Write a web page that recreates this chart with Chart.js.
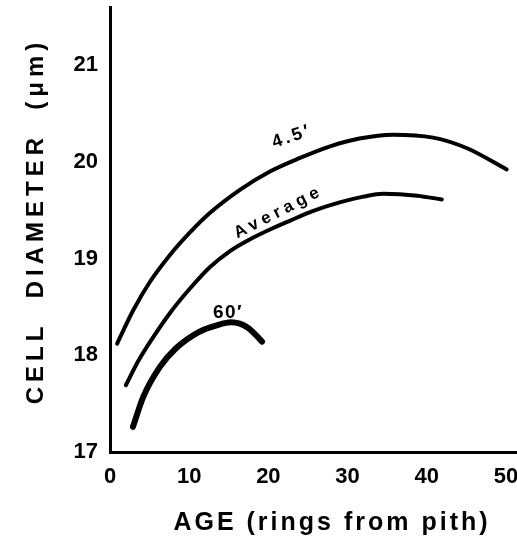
<!DOCTYPE html>
<html>
<head>
<meta charset="utf-8">
<script src="https://cdn.jsdelivr.net/npm/chart.js@4.4.1/dist/chart.umd.min.js"></script>
<style>
  html, body { margin: 0; padding: 0; background: #fff; }
  #wrap { width: 517px; height: 543px; position: relative; }
</style>
</head>
<body>
<div id="wrap"><canvas id="chart"></canvas></div>
<script>
// tick labels
const ageTicks = [0, 10, 20, 30, 40, 50];
const diameterTicks = [17, 18, 19, 20, 21];

// 4.5 ft height
const age45 = [0.9, 2.9, 5.05, 7.6, 10.1, 12.6, 16.4, 20.2, 24.0, 27.8, 31.5, 35.7, 40.8, 45.1, 50.1];
const diam45 = [18.12, 18.46, 18.76, 19.04, 19.27, 19.47, 19.71, 19.90, 20.04, 20.16, 20.24, 20.28, 20.25, 20.14, 19.92];

// average
const ageAvg = [2.0, 3.5, 5.0, 7.6, 10.1, 12.6, 15.2, 17.7, 20.2, 22.7, 25.6, 29.0, 32.0, 34.5, 38.8, 41.9];
const diamAvg = [17.69, 17.93, 18.13, 18.44, 18.69, 18.91, 19.08, 19.20, 19.30, 19.39, 19.49, 19.58, 19.64, 19.67, 19.65, 19.61];

// 60 ft height
const age60 = [2.9, 4.2, 6.3, 8.3, 11.2, 13.5, 15.3, 17.5, 19.2];
const diam60 = [17.26, 17.57, 17.88, 18.07, 18.24, 18.31, 18.34, 18.28, 18.14];

const seriesNames = ['4.5\u2032', 'Average', '60\u2032'];

const toPoints = (xs, ys) => xs.map((x, i) => ({x: x, y: ys[i]}));

const FONT = '"Liberation Sans", Arial, sans-serif';

// labels written along the curves (data coordinates)
const curveLabels = [
  {text: seriesNames[0], x: 23.0, y: 20.26, angle: -19, size: 18, spacing: 3},
  {text: seriesNames[1], x: 21.3, y: 19.48, angle: -27, size: 17, spacing: 4.5},
  {text: seriesNames[2], x: 14.9, y: 18.44, angle: 0, size: 19, spacing: 1.5}
];

const annotate = {
  id: 'annotate',
  afterDraw(chart){
    const ctx = chart.ctx;
    const xs = chart.scales.x, ys = chart.scales.y;
    ctx.save();
    ctx.fillStyle = '#000';
    ctx.textAlign = 'center';
    ctx.textBaseline = 'middle';
    curveLabels.forEach(l => {
      ctx.save();
      ctx.translate(xs.getPixelForValue(l.x), ys.getPixelForValue(l.y));
      ctx.rotate(l.angle * Math.PI / 180);
      ctx.font = 'bold ' + l.size + 'px ' + FONT;
      ctx.letterSpacing = l.spacing + 'px';
      ctx.fillText(l.text, 0, 0);
      ctx.restore();
    });

    // axis titles (wide letter spacing like the original)
    ctx.font = 'bold 25px ' + FONT;
    ctx.letterSpacing = '3px';
    ctx.fillText('AGE (rings from pith)', 332, 523);

    ctx.save();
    ctx.translate(36, 221);
    ctx.rotate(-Math.PI / 2);
    ctx.font = 'bold 24px ' + FONT;
    ctx.letterSpacing = '5px';
    ctx.fillText('CELL  DIAMETER  (\u03bcm)', 0, 0);
    ctx.restore();
    ctx.restore();
  }
};

const ctx = document.getElementById('chart').getContext('2d');
new Chart(ctx, {
  type: 'line',
  data: {
    datasets: [
      {label: seriesNames[0], data: toPoints(age45, diam45), borderWidth: 4},
      {label: seriesNames[1], data: toPoints(ageAvg, diamAvg), borderWidth: 4},
      {label: seriesNames[2], data: toPoints(age60, diam60), borderWidth: 6}
    ].map(d => Object.assign(d, {
      borderColor: '#000',
      pointRadius: 0,
      fill: false,
      cubicInterpolationMode: 'monotone',
      borderCapStyle: 'round',
      borderJoinStyle: 'round'
    }))
  },
  options: {
    responsive: true,
    maintainAspectRatio: false,
    animation: false,
    layout: {padding: {top: 7, left: 0, right: 0, bottom: 0}},
    plugins: {legend: {display: false}, tooltip: {enabled: false}},
    scales: {
      x: {
        type: 'linear',
        min: 0,
        max: 51.4,
        afterBuildTicks: s => { s.ticks = ageTicks.map(v => ({value: v})); },
        afterFit: s => { s.height = 91; s.paddingLeft = 0; s.paddingRight = 0; },
        grid: {display: false, drawTicks: false},
        border: {color: '#000', width: 3},
        ticks: {color: '#000', padding: 12, maxRotation: 0, font: {family: FONT, size: 22, weight: 'bold'}}
      },
      y: {
        type: 'linear',
        min: 17,
        max: 21.6,
        afterBuildTicks: s => { s.ticks = diameterTicks.map(v => ({value: v})); },
        afterFit: s => { s.width = 110; s.paddingTop = 0; s.paddingBottom = 0; },
        grid: {display: false, drawTicks: false},
        border: {color: '#000', width: 3},
        ticks: {color: '#000', padding: 12, font: {family: FONT, size: 22, weight: 'bold'}}
      }
    }
  },
  plugins: [annotate]
});
</script>
</body>
</html>
